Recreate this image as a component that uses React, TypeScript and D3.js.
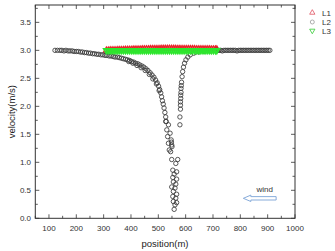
import React from 'react';
import * as d3 from 'd3';

// L2 (circles): position (m) and velocity (m/s)
const l2Pos = [
  122, 131, 140, 147, 155, 162, 170, 177, 185, 192, 200, 207, 215, 222, 230, 237, 245, 252, 260, 267,
  275, 282, 290, 297, 305, 312, 320, 327, 335, 342, 350, 357, 365, 372, 380, 387, 395, 402, 410, 417,
  425, 432, 440, 447, 455, 462, 470, 477, 484, 490, 496, 501, 505, 509, 512, 515, 518, 521, 524, 527, 529,
  392, 407, 422, 437, 452, 467, 480, 493, 503,
  527, 537, 531, 543, 534, 547, 537, 549, 540, 545, 548, 550,
  549, 571, 564, 553, 567, 558, 553, 567, 555, 564, 549, 561, 555, 567, 553, 564, 555, 567, 561, 558,
  579, 579, 581, 581, 582, 583, 585, 587, 589, 592, 596, 601, 608, 617, 630, 648, 668, 690, 710,
  584, 583, 582, 581,
  716, 722, 728, 734, 740, 746, 752, 758, 764, 770, 776, 782, 788, 794, 800, 806, 812, 818, 824, 830,
  836, 842, 848, 854, 860, 866, 872, 878, 884, 890, 896, 902, 908,
];
const l2Vel = [
  3.0, 3.0, 3.0, 3.0, 2.99, 3.0, 2.99, 2.99, 2.99, 2.98, 2.98, 2.98, 2.97, 2.97, 2.96, 2.96, 2.95, 2.95, 2.94, 2.94,
  2.93, 2.93, 2.92, 2.92, 2.91, 2.91, 2.9, 2.9, 2.89, 2.88, 2.88, 2.87, 2.86, 2.85, 2.84, 2.83, 2.82, 2.8, 2.79, 2.77,
  2.76, 2.74, 2.72, 2.7, 2.67, 2.64, 2.6, 2.56, 2.52, 2.47, 2.42, 2.36, 2.3, 2.24, 2.17, 2.1, 2.04, 1.97, 1.89, 1.81, 1.73,
  2.8, 2.77, 2.73, 2.69, 2.64, 2.57, 2.49, 2.4, 2.28,
  1.73, 1.67, 1.58, 1.52, 1.46, 1.4, 1.34, 1.31, 1.22, 1.19, 1.36, 1.28,
  1.05, 1.05, 0.98, 0.86, 0.83, 0.79, 0.73, 0.7, 0.65, 0.61, 0.56, 0.54, 0.48, 0.43, 0.39, 0.36, 0.3, 0.28, 0.24, 0.16,
  1.67, 1.81, 1.95, 2.08, 2.2, 2.32, 2.43, 2.53, 2.62, 2.7, 2.77, 2.83, 2.88, 2.92, 2.95, 2.97, 2.98, 2.99, 3.0,
  2.37, 2.25, 2.14, 2.02,
  3.0, 3.0, 3.0, 2.99, 3.0, 3.0, 3.0, 3.0, 3.0, 3.0, 3.0, 3.0, 2.99, 3.0, 3.0, 3.0, 3.0, 3.0, 3.0, 3.0,
  3.0, 3.0, 3.0, 3.0, 3.0, 3.0, 3.0, 3.0, 3.0, 3.0, 3.0, 3.0, 3.0,
];

// L1 / L3 (triangles) share positions
const lanePos = [
  310, 317, 324, 331, 338, 345, 352, 359, 366, 373, 380, 387, 394, 401, 408, 415, 422, 429, 436, 443,
  450, 457, 464, 471, 478, 485, 492, 499, 506, 513, 520, 527, 534, 541, 548, 555, 562, 569, 576, 583,
  590, 597, 604, 611, 618, 625, 632, 639, 646, 653, 660, 667, 674, 681, 688, 695, 702, 709, 714,
];
const l1Vel = [
  3.0, 3.001, 3.003, 3.004, 3.005, 3.006, 3.008, 3.009, 3.01, 3.011, 3.012, 3.013, 3.014, 3.015, 3.016, 3.017, 3.018, 3.019, 3.02, 3.021,
  3.022, 3.023, 3.024, 3.025, 3.026, 3.027, 3.027, 3.028, 3.029, 3.03, 3.03, 3.031, 3.031, 3.032, 3.031, 3.03, 3.03, 3.029, 3.029, 3.028,
  3.028, 3.027, 3.027, 3.026, 3.026, 3.025, 3.025, 3.024, 3.024, 3.023, 3.023, 3.022, 3.022, 3.021, 3.021, 3.02, 3.02, 3.02, 3.02,
];
const l3Vel = [
  3.0, 3.0, 3.0, 3.0, 3.0, 3.0, 3.0, 3.0, 3.0, 3.0, 3.0, 3.0, 3.0, 3.0, 3.0, 3.0, 3.0, 3.0, 3.0, 3.0,
  3.0, 3.0, 3.0, 3.0, 3.0, 3.0, 3.0, 3.0, 3.0, 3.0, 3.0, 3.0, 3.0, 3.0, 3.0, 3.0, 3.0, 3.0, 3.0, 3.0,
  3.0, 3.0, 3.0, 3.0, 3.0, 3.0, 3.0, 3.0, 3.0, 3.0, 3.0, 3.0, 3.0, 3.0, 3.0, 3.0, 3.0, 3.0, 3.0,
];

const xTickLabels = [100, 200, 300, 400, 500, 600, 700, 800, 900, 1000];
const yTickLabels = [0, 0.5, 1.0, 1.5, 2.0, 2.5, 3.0, 3.5];
const seriesNames = ['L1', 'L2', 'L3'];

const W = 335;
const H = 251;
const font = '"Liberation Sans", Arial, sans-serif';

const App = () => {
  const x = d3.scaleLinear().domain([50, 1000]).range([35.3, 295]);
  const y = d3.scaleLinear().domain([0, 3.81]).range([218.3, 5]);

  const tri = d3.symbol(d3.symbolTriangle, 14)();
  const triLegend = d3.symbol(d3.symbolTriangle, 12)();
  const frame = '#333';

  const xTicks = d3.range(50, 1001, 50);
  const yTicks = d3.range(0, 3.81, 0.25);

  // wind arrow anchored in data space
  const ax0 = x(811), ax1 = x(931), ay = y(0.357);
  const headX = ax0 + 7.5;
  const arrow = `M${ax0},${ay} L${headX},${ay - 3.2} L${headX},${ay - 1.7} L${ax1},${ay - 1.7} L${ax1},${ay + 1.7} L${headX},${ay + 1.7} L${headX},${ay + 3.2} Z`;

  return (
    <svg width={W} height={H} style={{ position: 'absolute', left: 0, top: 0, background: '#fff' }} fontFamily={font}>
      {/* L1 */}
      <g fill="none" stroke="#e8242a" strokeWidth={1.3}>
        {lanePos.map((p, i) => (
          <path key={i} d={tri!} transform={`translate(${x(p)},${y(l1Vel[i])})`} />
        ))}
      </g>
      {/* L2 */}
      <g fill="none" stroke="#3a3a3a" strokeWidth={0.85}>
        {l2Pos.map((p, i) => (
          <circle key={i} cx={x(p)} cy={y(l2Vel[i])} r={2.2} />
        ))}
      </g>
      {/* L3 */}
      <g fill="none" stroke="#2ee62e" strokeWidth={1.5}>
        {lanePos.map((p, i) => (
          <path key={i} d={tri!} transform={`translate(${x(p)},${y(l3Vel[i])}) rotate(180)`} />
        ))}
      </g>

      {/* frame */}
      <rect x={35.3} y={5} width={295 - 35.3} height={218.3 - 5} fill="none" stroke={frame} strokeWidth={1} />
      {xTicks.map(t => {
        const major = t % 100 === 0;
        const len = major ? 4 : 2.5;
        return (
          <g key={t} stroke={frame} strokeWidth={0.8}>
            <line x1={x(t)} x2={x(t)} y1={218.3} y2={218.3 - len} />
            <line x1={x(t)} x2={x(t)} y1={5} y2={5 + len} />
          </g>
        );
      })}
      {yTicks.map(t => {
        const major = Math.round(t * 100) % 50 === 0;
        const len = major ? 4 : 2.5;
        return (
          <g key={t} stroke={frame} strokeWidth={0.8}>
            <line x1={35.3} x2={35.3 + len} y1={y(t)} y2={y(t)} />
            <line x1={295} x2={295 - len} y1={y(t)} y2={y(t)} />
          </g>
        );
      })}
      {xTickLabels.map(t => (
        <text key={t} x={x(t)} y={230.5} fontSize={8} textAnchor="middle" fill="#333">{t}</text>
      ))}
      {yTickLabels.map(t => (
        <text key={t} x={31} y={y(t) + 2.8} fontSize={8} textAnchor="end" fill="#333">{t.toFixed(1)}</text>
      ))}

      <text x={165} y={247} fontSize={9.5} textAnchor="middle" fill="#222">position(m)</text>
      <text transform={`translate(14.5,${(5 + 218.3) / 2}) rotate(-90)`} fontSize={9.5} textAnchor="middle" fill="#222">velocity(m/s)</text>

      {/* legend */}
      <g fontSize={8} fill="#333">
        <path d={triLegend!} transform="translate(312.3,12.7)" fill="none" stroke="#e05060" strokeWidth={0.8} />
        <circle cx={312.3} cy={22} r={2} fill="none" stroke="#999" strokeWidth={0.8} />
        <path d={triLegend!} transform="translate(312.3,30.7) rotate(180)" fill="none" stroke="#3c3" strokeWidth={0.8} />
        {seriesNames.map((n, i) => (
          <text key={n} x={322} y={15.5 + i * 9}>{n}</text>
        ))}
      </g>

      {/* wind annotation */}
      <path d={arrow} fill="#fff" stroke="#7aa3d6" strokeWidth={0.9} />
      <text x={x(889)} y={y(0.52) + 2.5} fontSize={8} textAnchor="middle" fill="#333">wind</text>
    </svg>
  );
};

export default App;
